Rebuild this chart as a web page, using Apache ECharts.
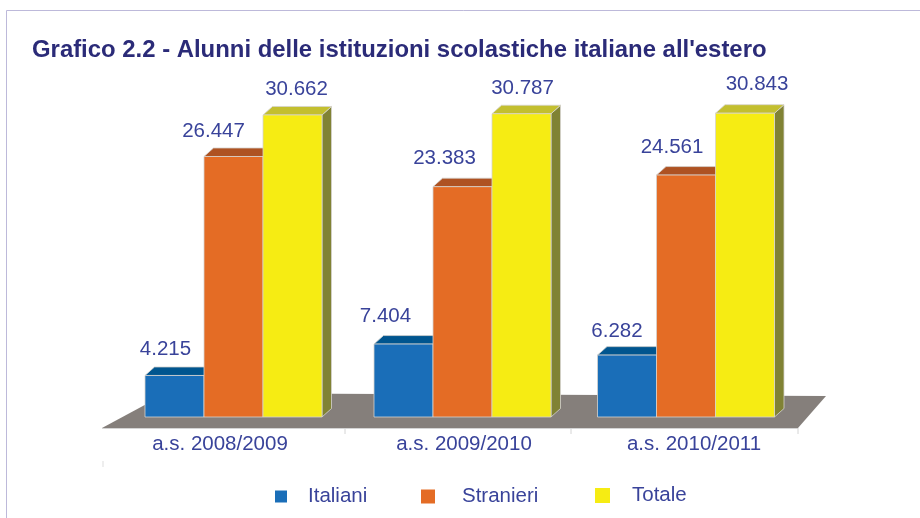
<!DOCTYPE html>
<html>
<head>
<meta charset="utf-8">
<style>html,body{margin:0;padding:0;background:#fff}#chart{width:920px;height:518px}</style>
<script src="https://cdn.jsdelivr.net/npm/echarts@6/dist/echarts.min.js"></script>
</head>
<body>
<div id="chart"></div>
<script>
var categories = ['a.s. 2008/2009', 'a.s. 2009/2010', 'a.s. 2010/2011'];
var italiani = [4215, 7404, 6282];
var stranieri = [26447, 23383, 24561];
var totale = [30662, 30787, 30843];

// layout tweaks: the source chart is not evenly spaced
var barW = 59, depthX = 9.5, depthY = 8.5;
var groupShift = [15.5, 12.5, 4];
var labelShift = {
    Italiani: [[-9, -26], [-18, -28], [-10, -24]],
    Stranieri: [[-20, -25], [-18, -28], [-14, -28]],
    Totale: [[4, -26], [1, -25], [12, -29]]
};
var tickX = [243, 469];
var textColor = '#39439a';
var font = '"Liberation Sans", Arial, sans-serif';

function fmt(v) {
    return String(v).replace(/\B(?=(\d{3})+$)/g, '.');
}

function barSeries(name, values, slot, front, top, side) {
    return {
        name: name,
        type: 'custom',
        itemStyle: { color: front },
        data: values.map(function (v, i) { return [i, v]; }),
        renderItem: function (params, api) {
            var i = api.value(0), v = api.value(1);
            var p = api.coord([i, v]), base = api.coord([i, 0]);
            var x = p[0] + groupShift[i] + (slot - 1.5) * barW;
            var y = p[1], b = base[1];
            var edge = { stroke: '#d6d3cf', lineWidth: 0.8 };
            var shift = labelShift[name][i];
            return {
                type: 'group',
                children: [
                    { type: 'polygon', shape: { points: [[x + barW, y], [x + barW + depthX, y - depthY], [x + barW + depthX, b - depthY], [x + barW, b]] },
                      style: Object.assign({ fill: side }, edge) },
                    { type: 'polygon', shape: { points: [[x, y], [x + depthX, y - depthY], [x + barW + depthX, y - depthY], [x + barW, y]] },
                      style: Object.assign({ fill: top }, edge) },
                    { type: 'rect', shape: { x: x, y: y, width: barW, height: b - y },
                      style: Object.assign({ fill: front }, edge) },
                    { type: 'text', x: x + barW / 2 + shift[0], y: y + shift[1],
                      style: { text: fmt(v), fill: textColor, font: '20.5px ' + font, textAlign: 'center', textVerticalAlign: 'middle' } }
                ]
            };
        }
    };
}

var floorSeries = {
    name: 'floor',
    type: 'custom',
    silent: true,
    z: 1,
    data: [[0, 0]],
    renderItem: function (params, api) {
        var g = params.coordSys;
        var y0 = g.y + g.height;
        var children = [
            { type: 'polygon', shape: { points: [[g.x, y0 + 11], [g.x + 65, y0 - 24], [g.x + g.width + 28, y0 - 21], [g.x + g.width, y0 + 11]] },
              style: { fill: '#857f7b' } },
            { type: 'line', shape: { x1: g.x, y1: y0 + 11.5, x2: g.x + g.width, y2: y0 + 11.5 }, style: { stroke: '#d4d4d4', lineWidth: 1 } },
            { type: 'line', shape: { x1: g.x + g.width, y1: y0 + 11, x2: g.x + g.width, y2: y0 + 17 }, style: { stroke: '#d4d4d4', lineWidth: 1 } },
            { type: 'line', shape: { x1: g.x + 1, y1: y0 + 44, x2: g.x + 1, y2: y0 + 50 }, style: { stroke: '#dddddd', lineWidth: 1 } }
        ];
        tickX.forEach(function (t) {
            children.push({ type: 'line', shape: { x1: g.x + t, y1: y0 + 11, x2: g.x + t, y2: y0 + 17 }, style: { stroke: '#d4d4d4', lineWidth: 1 } });
        });
        return { type: 'group', children: children };
    }
};

// one legend per item, the source keys are not spaced or sized alike
function legendItem(name, left, top, size, textGap) {
    return {
        data: [name],
        left: left, top: top,
        padding: 0,
        icon: 'rect',
        itemWidth: size, itemHeight: size,
        selectedMode: false,
        textStyle: { color: textColor, fontSize: 20.5, fontFamily: font, padding: [0, 0, 0, textGap] }
    };
}

var chart = echarts.init(document.getElementById('chart'));
chart.setOption({
    animation: false,
    backgroundColor: '#fff',
    textStyle: { fontFamily: font },
    title: {
        text: "Grafico 2.2 - Alunni delle istituzioni scolastiche italiane all'estero",
        left: 32, top: 38,
        padding: 0,
        textStyle: { color: '#2b2b78', fontSize: 23.9, fontWeight: 'bold', fontFamily: font }
    },
    graphic: [{
        type: 'polyline',
        silent: true,
        shape: { points: [[6.5, 518], [6.5, 10.5], [920, 10.5]] },
        style: { stroke: '#bdb9da', lineWidth: 1, fill: null }
    }],
    legend: [
        legendItem('Italiani', 275, 486, 12, 16),
        legendItem('Stranieri', 421, 486, 14, 22),
        legendItem('Totale', 595, 485, 15, 17)
    ],
    grid: { left: 102, right: 122, top: 72.25, height: 344.75 },
    xAxis: {
        type: 'category',
        data: categories,
        offset: 11,
        axisLine: { show: false },
        axisTick: { show: false },
        axisLabel: {
            margin: 6,
            interval: 0,
            formatter: function (v, i) { return '{p' + i + '|' + v + '}'; },
            rich: {
                p0: { color: textColor, fontSize: 20.5, fontFamily: font, padding: [0, 0, 0, 4] },
                p1: { color: textColor, fontSize: 20.5, fontFamily: font, padding: [0, 0, 0, 28] },
                p2: { color: textColor, fontSize: 20.5, fontFamily: font, padding: [0, 0, 0, 24] }
            }
        }
    },
    yAxis: { type: 'value', min: 0, max: 35000, show: false, splitLine: { show: false } },
    series: [
        floorSeries,
        barSeries('Italiani', italiani, 0, '#1a6eb8', '#00558f', '#0f4f86'),
        barSeries('Stranieri', stranieri, 1, '#e46c25', '#ae5222', '#a34d1e'),
        barSeries('Totale', totale, 2, '#f6ec13', '#c3bf2f', '#808234')
    ]
});
</script>
</body>
</html>
